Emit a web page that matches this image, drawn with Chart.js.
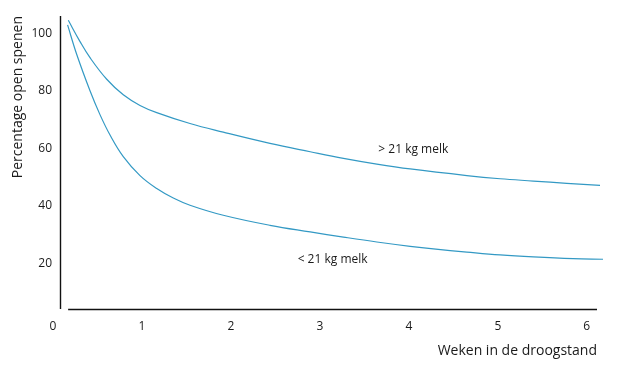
<!DOCTYPE html>
<html>
<head>
<meta charset="utf-8">
<script src="https://cdn.jsdelivr.net/npm/chart.js@4"></script>
<style>
  html, body { margin: 0; padding: 0; background: #fff; }
  #wrap { width: 626px; height: 372px; }
</style>
</head>
<body>
<div id="wrap"><canvas id="chart" width="626" height="372"></canvas></div>
<script>
// weeks in dry period
let highWeeks = [0.172, 0.304, 0.416, 0.604, 0.79, 0.978, 1.166, 1.54, 1.914, 2.439, 2.891, 3.265, 3.64, 4.015, 4.652, 5.026, 5.4, 5.775, 6.149];
let highValues = [104.5, 97.1, 91.5, 84.0, 78.6, 74.9, 72.4, 68.6, 65.6, 61.7, 58.8, 56.5, 54.5, 52.8, 50.5, 49.4, 48.6, 47.8, 47.1];

let lowWeeks = [0.164, 0.266, 0.416, 0.528, 0.641, 0.79, 0.978, 1.166, 1.352, 1.54, 1.914, 2.439, 2.891, 3.265, 3.64, 4.015, 4.276, 4.652, 5.026, 5.4, 5.846, 6.183];
let lowValues = [102.9, 92.7, 80.0, 71.7, 64.6, 57.1, 50.5, 46.0, 42.7, 40.2, 36.7, 33.2, 30.9, 29.1, 27.4, 25.9, 25.0, 23.9, 22.9, 22.2, 21.6, 21.4];

let xTicks = [0, 1, 2, 3, 4, 5, 6];
let yTicks = [20, 40, 60, 80, 100];

let seriesLabels = ["> 21 kg melk", "< 21 kg melk"];
let labelPos = [[3.657, 59.6], [2.75, 21.4]];

const lineColor = "#3399c4";
const textColor = "#1a1a1a";
const font = "'Open Sans', sans-serif";

function toPoints(xs, ys) {
    return xs.map((x, i) => ({x: x, y: ys[i]}));
}

// axis lines with the small gap at the corner, plus the curve labels
const extras = {
    id: "extras",
    afterDraw(chart) {
        let ctx = chart.ctx;
        let xs = chart.scales.x, ys = chart.scales.y;
        ctx.save();
        ctx.strokeStyle = "#111";
        ctx.lineWidth = 1.4;
        let ax = Math.round(xs.getPixelForValue(0.08)) + 0.5;
        ctx.beginPath();
        ctx.moveTo(ax, ys.top);
        ctx.lineTo(ax, ys.bottom);
        ctx.stroke();
        let by = Math.round(ys.bottom) + 0.5;
        ctx.beginPath();
        ctx.moveTo(xs.getPixelForValue(0.17), by);
        ctx.lineTo(xs.right, by);
        ctx.stroke();

        ctx.fillStyle = textColor;
        ctx.font = "12px " + font;
        ctx.textAlign = "left";
        ctx.textBaseline = "middle";
        seriesLabels.forEach((t, i) => {
            ctx.fillText(t, xs.getPixelForValue(labelPos[i][0]), ys.getPixelForValue(labelPos[i][1]));
        });
        ctx.restore();
    }
};

new Chart(document.getElementById("chart"), {
    type: "line",
    data: {
        datasets: [
            {label: seriesLabels[0], data: toPoints(highWeeks, highValues)},
            {label: seriesLabels[1], data: toPoints(lowWeeks, lowValues)}
        ].map(d => Object.assign(d, {
            borderColor: lineColor,
            borderWidth: 1.2,
            pointRadius: 0,
            tension: 0.4,
            fill: false,
            clip: false
        }))
    },
    options: {
        responsive: false,
        animation: false,
        layout: {padding: {top: 16, right: 29, bottom: 0, left: 0}},
        plugins: {legend: {display: false}, tooltip: {enabled: false}},
        scales: {
            x: {
                type: "linear",
                min: 0,
                max: 6.115,
                grid: {display: false, drawTicks: false},
                border: {display: false},
                afterBuildTicks: s => { s.ticks = xTicks.map(v => ({value: v})); },
                afterFit: s => { s.height = 63; },
                ticks: {
                    color: textColor,
                    padding: 10,
                    font: {family: font, size: 12},
                    maxRotation: 0
                },
                title: {
                    display: true,
                    text: "Weken in de droogstand",
                    align: "end",
                    color: textColor,
                    font: {family: font, size: 14},
                    padding: {top: 0, bottom: 13}
                }
            },
            y: {
                type: "linear",
                min: 4.1,
                max: 106,
                grid: {display: false, drawTicks: false},
                border: {display: false},
                afterBuildTicks: s => { s.ticks = yTicks.map(v => ({value: v})); },
                afterFit: s => { s.width = 53; },
                ticks: {
                    color: textColor,
                    padding: 1,
                    font: {family: font, size: 12}
                },
                title: {
                    display: true,
                    text: "Percentage open spenen",
                    align: "end",
                    color: textColor,
                    font: {family: font, size: 14},
                    padding: {top: 10, bottom: 0}
                }
            }
        }
    },
    plugins: [extras]
});
</script>
</body>
</html>
